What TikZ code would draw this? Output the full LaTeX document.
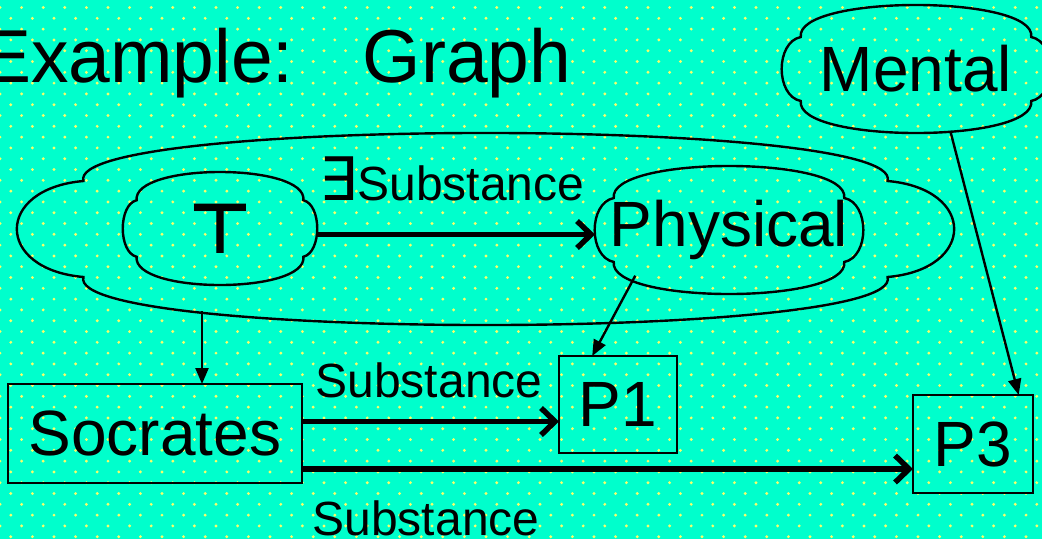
\documentclass[tikz,border=0pt]{standalone}
\usepackage{fontspec}
\setmainfont{Liberation Sans}
\newfontfamily\dejavu{DejaVu Sans}
\usepackage{tikz}
\usetikzlibrary{positioning,arrows.meta,shapes.geometric}
\definecolor{SlideBg}{HTML}{00FFCC}
\definecolor{SlideDot}{HTML}{F8FF6A}
\newcommand{\puffcloud}[3]{%
  \draw[line width=2.4pt,shift={(#1.center)},xscale=#2,yscale=#3]
    (-0.86,0.5) .. controls (-0.9,1.167) and (0.9,1.167) .. (0.86,0.5)
    .. controls (1.05,0.42) and (1.05,-0.42) .. (0.86,-0.5)
    .. controls (0.9,-1.167) and (-0.9,-1.167) .. (-0.86,-0.5)
    .. controls (-1.05,-0.42) and (-1.05,0.42) .. (-0.86,0.5) -- cycle;}

\begin{document}
\begin{tikzpicture}[x=1pt,y=-1pt,>={Straight Barb[length=14pt,width=27pt]}]
  \tikzstyle{puff}=[ellipse,inner sep=-50pt,outer sep=0pt,
    font=\fontsize{64}{70}\selectfont]
  \tikzstyle{box}=[draw,line width=2.2pt,inner sep=0pt,outer sep=0pt,
    font=\fontsize{64}{70}\selectfont]
  \tikzstyle{lbl}=[inner sep=0pt,anchor=base,font=\fontsize{48}{52}\selectfont]
  \tikzstyle{thinlink}=[line width=2.4pt,-{Triangle[length=16pt,width=13pt]}]
  \tikzstyle{fatlink}=[line width=5.5pt,->]
  \useasboundingbox (0,0) rectangle (1042,539);
  \fill[SlideBg] (0,0) rectangle (1042,539);
  \foreach \r in {0,...,49}
    \foreach \c in {0,...,48}
      \fill[SlideDot] ({21.6*\c+10.8*mod(\r,2)},{7.5+10.8*\r}) circle (1.6);

  \node[inner sep=0pt,anchor=base west,font=\fontsize{75}{80}\selectfont]
    (title) at (-19,82) {Example:\hspace{69pt}Graph};

  \coordinate (grp) at (485.5,229);
  \puffcloud{grp}{467.5}{96}
  \node[puff,minimum width=194pt,minimum height=113pt] (top) at (220,228.5)
    {\raisebox{-4pt}{\dejavu\bfseries\fontsize{70}{70}\selectfont ⊤}};
  \puffcloud{top}{97}{56.5}
  \node[puff,minimum width=268pt,minimum height=128pt] (physical) at (729,230)
    {Physical};
  \puffcloud{physical}{134}{64}
  \node[puff,minimum width=268pt,minimum height=128pt] (mental) at (916,69)
    {\raisebox{-7pt}{Mental}};
  \puffcloud{mental}{134}{64}

  \node[box,minimum width=294pt,minimum height=99pt] (socrates) at (155,433.5)
    {Socrates};
  \node[box,minimum width=118pt,minimum height=97pt] (p1) at (618,404.5) {P1};
  \node[box,minimum width=120pt,minimum height=98pt] (p3) at (973,444) {P3};

  \node[lbl] (exsub) at (452,200)
    {{\dejavu\fontsize{60}{60}\selectfont ∃}Substance};
  \node[lbl] (sub1) at (429,397) {Substance};
  \node[lbl] (sub2) at (426,535) {Substance};

  \coordinate (t1) at ([yshift=-6pt]top.east);
  \draw[fatlink] (t1) -- (t1 -| physical.west);
  \coordinate (g1) at (202,311);
  \draw[thinlink] (g1) -- (g1 |- socrates.north);
  \draw[thinlink] (physical.206) -- (p1.118);
  \draw[thinlink] (mental.299) -- (p3.47);
  \coordinate (s1) at ([yshift=12pt]socrates.east);
  \draw[fatlink] (s1) -- (s1 -| p1.west);
  \coordinate (s3) at ([yshift=-35.5pt]socrates.east);
  \draw[fatlink] (s3) -- (s3 -| p3.west);
\end{tikzpicture}
\end{document}
